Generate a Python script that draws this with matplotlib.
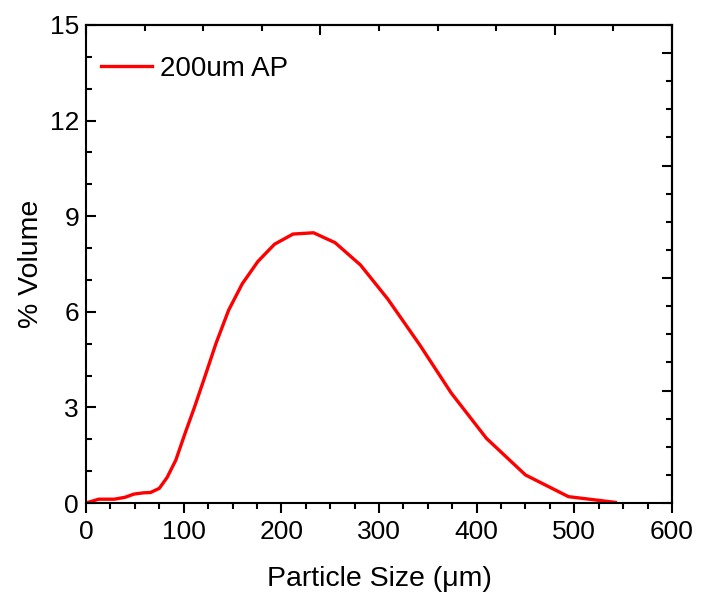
import matplotlib
matplotlib.use("Agg")
import matplotlib.pyplot as plt
from matplotlib.ticker import MultipleLocator, NullFormatter

plt.rcParams['font.family'] = ['Liberation Sans', 'DejaVu Sans']

size_um = [2, 13, 29, 40, 49, 59, 66, 75, 83, 92, 101, 111, 121, 133, 146, 160,
           176, 193, 212, 233, 255, 281, 309, 342, 374, 410, 450, 494, 542]
volume_pct = [0.02, 0.12, 0.12, 0.18, 0.28, 0.32, 0.33, 0.46, 0.8, 1.35, 2.15, 3.0,
              3.9, 5.0, 6.05, 6.88, 7.58, 8.12, 8.44, 8.48, 8.17, 7.47, 6.4, 4.95,
              3.45, 2.03, 0.88, 0.2, 0.02]
series_label = "200um AP"
x_label = "Particle Size (\u03bcm)"
y_label = "% Volume"

fig = plt.figure(figsize=(7.01, 5.92), dpi=100)
ax = fig.add_axes([0.1227, 0.1503, 0.9586 - 0.1227, 0.9578 - 0.1503])

ax.plot(size_um, volume_pct, color='#ff0000', lw=2.4, label=series_label)

ax.set_xlim(0, 600)
ax.set_ylim(0, 15)
ax.xaxis.set_major_locator(MultipleLocator(100))
ax.xaxis.set_minor_locator(MultipleLocator(25))
ax.yaxis.set_major_locator(MultipleLocator(3))
ax.yaxis.set_minor_locator(MultipleLocator(1))

for s in ax.spines.values():
    s.set_linewidth(1.5)

ax.tick_params(axis='x', which='major', direction='out', length=7, width=1.5, labelsize=19, pad=5)
ax.tick_params(axis='x', which='minor', direction='out', length=4, width=1.5)
ax.tick_params(axis='y', which='major', direction='in', length=7, width=1.5, labelsize=19, pad=5)
ax.tick_params(axis='y', which='minor', direction='in', length=4, width=1.5)

ax.set_xlabel(x_label, fontsize=20.5, labelpad=16)
ax.set_ylabel(y_label, fontsize=20.5, labelpad=4)

# top axis (tick marks only)
top = ax.secondary_xaxis('top')
top.xaxis.set_major_locator(MultipleLocator(240))
top.xaxis.set_minor_locator(MultipleLocator(60))
top.xaxis.set_major_formatter(NullFormatter())
top.tick_params(axis='x', which='major', direction='in', length=7, width=1.5)
top.tick_params(axis='x', which='minor', direction='in', length=4, width=1.5)
top.spines['top'].set_linewidth(1.5)

# right axis (tick marks only)
right = ax.secondary_yaxis('right', functions=(lambda y: y * 17.0 / 15.0, lambda y: y * 15.0 / 17.0))
right.yaxis.set_major_locator(MultipleLocator(4))
right.yaxis.set_minor_locator(MultipleLocator(1))
right.yaxis.set_major_formatter(NullFormatter())
right.tick_params(axis='y', which='major', direction='in', length=7, width=1.5)
right.tick_params(axis='y', which='minor', direction='in', length=4, width=1.5)
right.spines['right'].set_linewidth(1.5)

ax.legend(loc='center left', frameon=False, fontsize=20, handlelength=1.84,
          handletextpad=0.3, borderaxespad=0, borderpad=0,
          bbox_to_anchor=(0.0256, 0.908))

fig.savefig("out.png", dpi=100)
